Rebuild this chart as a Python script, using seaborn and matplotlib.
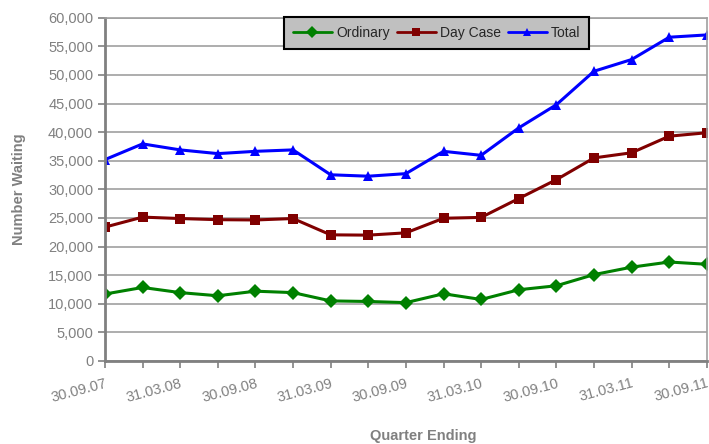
import matplotlib
matplotlib.use("Agg")
import matplotlib.pyplot as plt
import seaborn as sns
import pandas as pd
from matplotlib.ticker import FuncFormatter

# ── dados ────────────────────────────────────────────────────────────────────
quarters = ["30.09.07", "31.12.07", "31.03.08", "30.06.08", "30.09.08", "31.12.08",
            "31.03.09", "30.06.09", "30.09.09", "31.12.09", "31.03.10", "30.06.10",
            "30.09.10", "31.12.10", "31.03.11", "30.06.11", "30.09.11"]
ordinary = [11700, 12850, 11950, 11400, 12200, 11950, 10500, 10400, 10200, 11750,
            10750, 12450, 13150, 15100, 16400, 17300, 16900]
day_case = [23400, 25150, 24900, 24700, 24650, 24900, 22050, 22000, 22400, 24950,
            25100, 28400, 31700, 35500, 36400, 39300, 39900]
total = [35200, 37950, 36900, 36250, 36650, 36900, 32550, 32300, 32750, 36650,
         35950, 40750, 44800, 50650, 52700, 56600, 57000]

series_names = ["Ordinary", "Day Case", "Total"]
colors = {"Ordinary": "#008000", "Day Case": "#800000", "Total": "#0000FF"}
markers = {"Ordinary": "D", "Day Case": "s", "Total": "^"}

df = pd.concat([
    pd.DataFrame({"idx": range(len(quarters)), "value": vals, "series": name})
    for name, vals in zip(series_names, [ordinary, day_case, total])
])

# ── plot ─────────────────────────────────────────────────────────────────────
sns.set_style("white")
plt.rcParams["font.family"] = ["Liberation Sans", "DejaVu Sans"]

fig = plt.figure(figsize=(7.09, 4.44), dpi=100)
ax = fig.add_axes([0.148, 0.187, 0.849, 0.773])

sns.lineplot(data=df, x="idx", y="value", hue="series", style="series",
             palette=colors, markers=markers, dashes=False, linewidth=2.2,
             markersize=7.5, markeredgewidth=0, ax=ax, legend=False)

ax.set_xlim(0, len(quarters) - 1)
ax.set_ylim(0, 60000)
ax.set_yticks(range(0, 60001, 5000))
ax.yaxis.set_major_formatter(FuncFormatter(lambda v, p: f"{int(v):,}"))
ax.set_xticks(range(len(quarters)))
ax.set_xticklabels([q if i % 2 == 0 else "" for i, q in enumerate(quarters)],
                   rotation=15, ha="right", rotation_mode="anchor")

grey = "#808080"
ax.grid(axis="y", color="#a0a0a0", linewidth=1.2)
ax.set_axisbelow(True)
for side in ["left", "bottom"]:
    ax.spines[side].set_color(grey)
    ax.spines[side].set_linewidth(2)
for side in ["right", "top"]:
    ax.spines[side].set_color("#a0a0a0")
    ax.spines[side].set_linewidth(1.2)
ax.tick_params(axis="both", colors=grey, labelsize=10.5, length=5, width=1.2,
               direction="out", left=True, bottom=True)
ax.tick_params(axis="x", pad=6)

ax.set_xlabel("")
ax.set_ylabel("Number Waiting", fontsize=10.5, fontweight="bold", color=grey, labelpad=16)
fig.text(0.597, 0.003, "Quarter Ending", fontsize=10.5, fontweight="bold",
         color=grey, ha="center", va="bottom")

handles = [plt.Line2D([], [], color=colors[n], marker=markers[n], markersize=6,
                      linewidth=2, markeredgewidth=0) for n in series_names]
leg = ax.legend(handles, series_names, ncol=3, loc="upper center",
                bbox_to_anchor=(0.551, 1.003), borderaxespad=0, fontsize=10,
                frameon=True, fancybox=False, handlelength=2.8, borderpad=0.65,
                columnspacing=0.5, handletextpad=0.3)
leg.get_frame().set_facecolor("#c0c0c0")
leg.get_frame().set_edgecolor("black")
leg.get_frame().set_linewidth(1.5)
leg.get_frame().set_alpha(1)

fig.savefig("out.png", dpi=100)
